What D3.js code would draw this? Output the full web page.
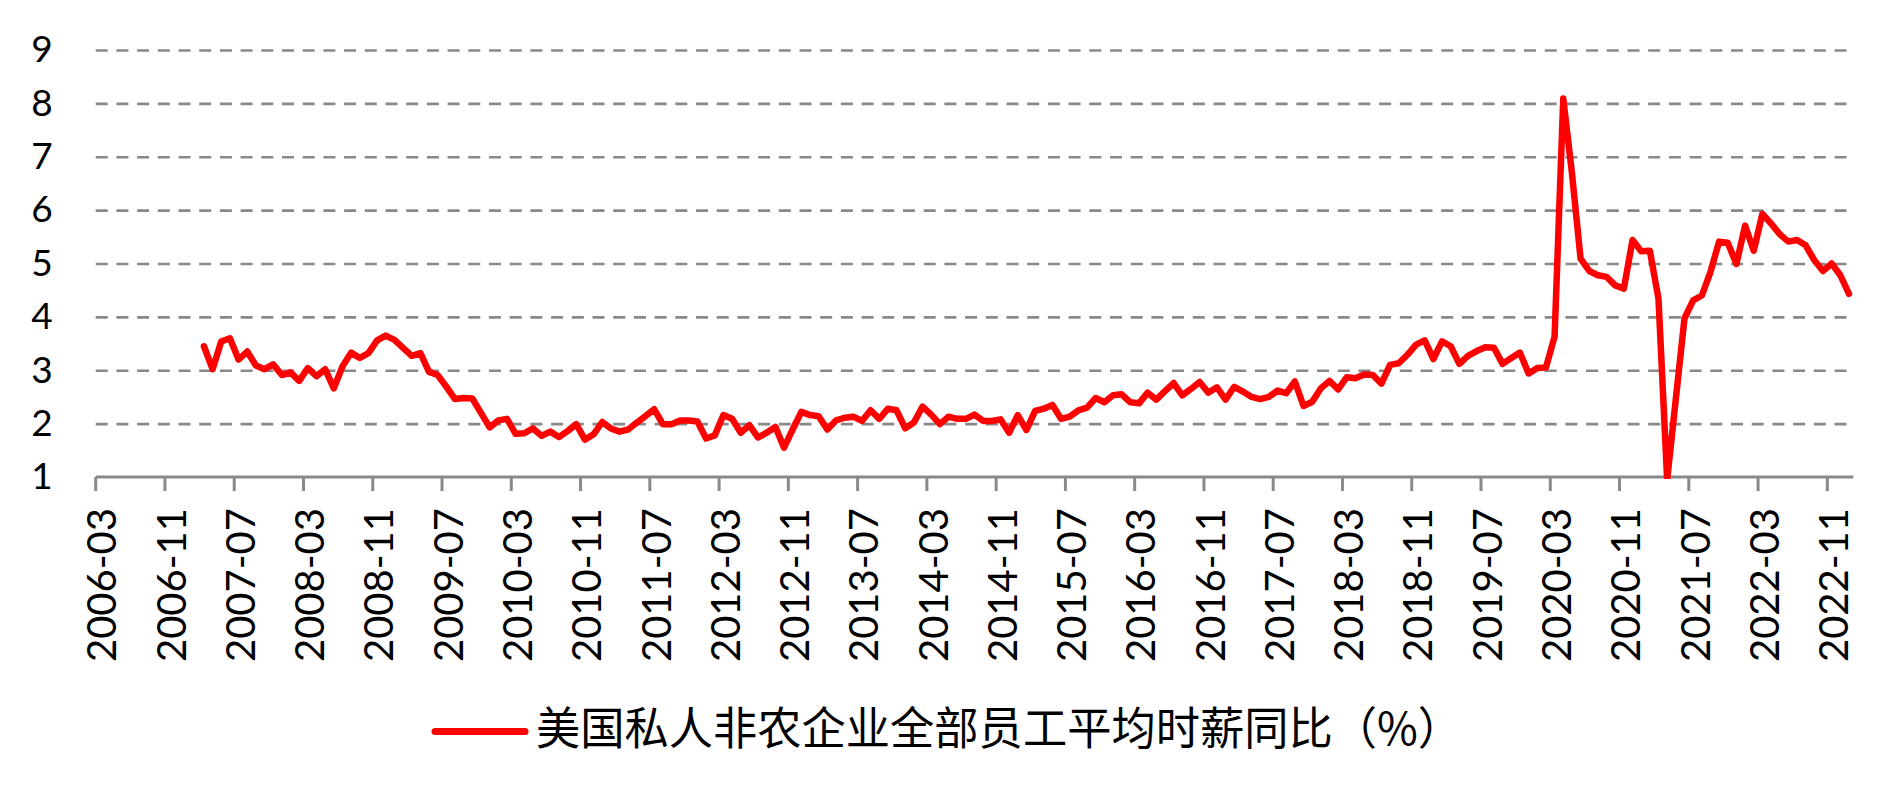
<!DOCTYPE html>
<html>
<head>
<meta charset="utf-8">
<script src="https://cdn.jsdelivr.net/npm/d3@7"></script>
<style>
    html, body { margin: 0; padding: 0; background: #fff; }
    svg { display: block; }
</style>
</head>
<body>
<svg id="chart" width="1903" height="800"></svg>
<script>
"use strict"

//category axis runs monthly from 2006-03, the first year is left empty
const first_month = '2006-03';
const month_count = 203;

//first month that has a value
const wage_start = '2007-03';

//US private nonfarm, all employees, average hourly earnings, YoY %
const wage_yoy = [
    3.45, 3.02, 3.54, 3.60, 3.20, 3.35, 3.09, 3.02, 3.11, 2.91,               //2007 Mar-Dec
    2.96, 2.80, 3.04, 2.89, 3.02, 2.66, 3.07, 3.33, 3.23, 3.32, 3.56, 3.65,   //2008
    3.57, 3.42, 3.27, 3.32, 2.97, 2.91, 2.69, 2.46, 2.48, 2.47, 2.20, 1.93,   //2009
    2.06, 2.09, 1.81, 1.82, 1.91, 1.77, 1.85, 1.75, 1.86, 1.99, 1.70, 1.80,   //2010
    2.03, 1.91, 1.85, 1.89, 2.02, 2.14, 2.27, 1.99, 1.99, 2.06, 2.06, 2.04,   //2011
    1.72, 1.78, 2.16, 2.09, 1.83, 1.97, 1.74, 1.83, 1.94, 1.55, 1.89, 2.22,   //2012
    2.16, 2.14, 1.89, 2.06, 2.11, 2.13, 2.05, 2.25, 2.09, 2.28, 2.25, 1.91,   //2013
    2.02, 2.32, 2.17, 1.99, 2.13, 2.09, 2.09, 2.17, 2.05, 2.05, 2.08, 1.83,   //2014
    2.16, 1.88, 2.24, 2.28, 2.35, 2.09, 2.13, 2.25, 2.30, 2.48, 2.40, 2.53,   //2015
    2.55, 2.40, 2.38, 2.58, 2.45, 2.61, 2.76, 2.53, 2.65, 2.78, 2.58, 2.68,   //2016
    2.45, 2.69, 2.60, 2.50, 2.46, 2.50, 2.62, 2.57, 2.79, 2.33, 2.41, 2.66,   //2017
    2.80, 2.64, 2.87, 2.85, 2.92, 2.91, 2.75, 3.10, 3.13, 3.29, 3.48, 3.56,   //2018
    3.21, 3.54, 3.45, 3.12, 3.27, 3.36, 3.43, 3.42, 3.12, 3.23, 3.33, 2.94,   //2019
    3.04, 3.05, 3.63, 8.09, 6.70, 5.09, 4.86, 4.78, 4.75, 4.59, 4.53, 5.44,   //2020
    5.23, 5.24, 4.34, 0.95, 2.46, 3.97, 4.31, 4.40, 4.84, 5.41, 5.39, 4.99,   //2021
    5.71, 5.24, 5.93, 5.75, 5.55, 5.41, 5.44, 5.34, 5.06, 4.86, 5.00, 4.78,   //2022
    4.43                                                                      //2023 Jan
];

const y_ticks = [1, 2, 3, 4, 5, 6, 7, 8, 9];
const x_label_step = 8;
const legend_label = '美国私人非农企业全部员工平均时薪同比（%）';

//build the month categories
const fmt = d3.timeFormat('%Y-%m');
const start_date = d3.timeParse('%Y-%m')(first_month);
const months = d3.range(month_count).map(k => fmt(d3.timeMonth.offset(start_date, k)));
const offset = months.indexOf(wage_start);
const series = wage_yoy.map((v, k) => ({ month: months[offset + k], value: v }));
const x_labels = months.filter((m, k) => k % x_label_step === 0);

//--------------------------------------//
//----------------LAYOUT----------------//
//--------------------------------------//
const plot = { left: 95.7, right: 1853.3, top: 50, bottom: 477 };
const grid_color = '#898989';

const svg = d3.select('#chart');

const x = d3.scaleBand()
    .domain(months)
    .range([plot.left, plot.right])
    .padding(0);

const y = d3.scaleLinear()
    .domain([1, 9])
    .range([plot.bottom, plot.top]);

//dashed horizontal grid
svg.append('g')
    .attr('transform', 'translate(' + plot.left + ',0)')
    .call(d3.axisLeft(y).tickValues(y_ticks.slice(1)).tickSize(-(plot.right - plot.left)).tickFormat(''))
    .call(g => g.select('.domain').remove())
    .call(g => g.selectAll('line')
        .attr('stroke', grid_color)
        .attr('stroke-width', 2.6)
        .attr('stroke-dasharray', '12,8.7'));

//y tick labels
svg.append('g')
    .attr('transform', 'translate(' + plot.left + ',0)')
    .call(d3.axisLeft(y).tickValues(y_ticks).tickSize(0).tickPadding(43).tickFormat(d3.format('d')))
    .call(g => g.select('.domain').remove())
    .call(g => g.selectAll('text')
        .attr('font-family', 'Lato, "Open Sans", sans-serif')
        .attr('font-size', 37)
        .attr('fill', '#000'));

//x axis: ticks sit on the band edges, labels on the band centres
const bw = x.bandwidth();
svg.append('g')
    .attr('transform', 'translate(0,' + plot.bottom + ')')
    .call(d3.axisBottom(x).tickValues(x_labels).tickSize(14).tickSizeOuter(0))
    .call(g => g.select('.domain')
        .attr('stroke', grid_color)
        .attr('stroke-width', 3)
        .attr('d', 'M' + plot.left + ',0H' + plot.right))
    .call(g => g.selectAll('.tick line')
        .attr('stroke', grid_color)
        .attr('stroke-width', 3)
        .attr('x1', -bw / 2)
        .attr('x2', -bw / 2))
    .call(g => g.selectAll('.tick text')
        .attr('font-family', 'Lato, "Open Sans", sans-serif')
        .attr('font-size', 40)
        .attr('fill', '#000')
        .attr('text-anchor', 'end')
        .attr('transform', 'translate(2,31) rotate(-90)')
        .attr('x', 0)
        .attr('y', 0)
        .attr('dy', '0.36em'));

//clip so the 2021 dip stops at the axis
svg.append('clipPath')
    .attr('id', 'plot_clip')
    .append('rect')
    .attr('x', plot.left)
    .attr('y', 0)
    .attr('width', plot.right - plot.left)
    .attr('height', plot.bottom + 2);

const line = d3.line()
    .x(d => x(d.month) + bw / 2)
    .y(d => y(d.value));

svg.append('path')
    .datum(series)
    .attr('clip-path', 'url(#plot_clip)')
    .attr('fill', 'none')
    .attr('stroke', '#ff0000')
    .attr('stroke-width', 6.5)
    .attr('stroke-linejoin', 'round')
    .attr('stroke-linecap', 'round')
    .attr('d', line);

//legend
const legend = svg.append('g').attr('transform', 'translate(433,731.5)');
legend.append('line')
    .attr('x1', 2)
    .attr('x2', 92)
    .attr('stroke', '#ff0000')
    .attr('stroke-width', 7)
    .attr('stroke-linecap', 'round');
legend.append('text')
    .attr('x', 103)
    .attr('y', 13)
    .attr('font-family', '"Noto Sans CJK SC", sans-serif')
    .attr('font-size', 45)
    .attr('textLength', 926)
    .attr('lengthAdjust', 'spacingAndGlyphs')
    .attr('fill', '#000')
    .text(legend_label);
</script>
</body>
</html>
